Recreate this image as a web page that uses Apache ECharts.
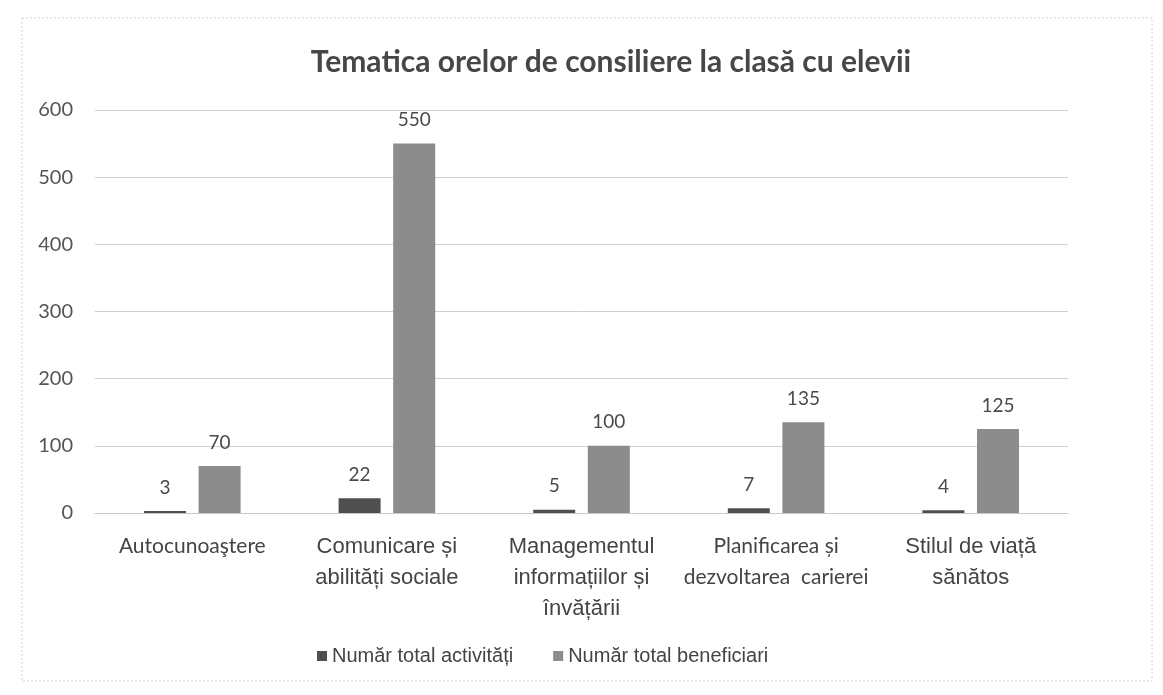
<!DOCTYPE html>
<html>
<head>
<meta charset="utf-8">
<script src="https://cdn.jsdelivr.net/npm/echarts@6/dist/echarts.min.js"></script>
<style>
  html, body { margin: 0; padding: 0; background: #ffffff; }
  #chart { width: 1163px; height: 695px; }
</style>
</head>
<body>
<div id="chart"></div>
<script>
// Topics of the class counselling hours
const categories = [
  'Autocunoaştere',
  'Comunicare și\nabilități sociale',
  'Managementul\ninformațiilor și\nînvățării',
  'Planificarea și\ndezvoltarea  carierei',
  'Stilul de viață\nsănătos'
];
const activities = [3, 22, 5, 7, 4];
const beneficiaries = [70, 550, 100, 135, 125];
const yTicks = [0, 100, 200, 300, 400, 500, 600];

const seriesNames = ['Număr total activități', 'Număr total beneficiari'];
const calibriLike = 'Lato, "Open Sans", sans-serif';
const arialLike = '"Liberation Sans", Arial, sans-serif';
// category labels set in two typefaces
const labelStyleKey = ['c', 'a', 'a', 'c', 'a'];

const chart = echarts.init(document.getElementById('chart'));

const valueLabel = {
  show: true,
  position: 'top',
  distance: 14,
  color: '#4a4a4a',
  fontFamily: calibriLike,
  fontSize: 19
};

chart.setOption({
  backgroundColor: '#ffffff',
  animation: false,
  graphic: [{
    type: 'rect',
    shape: { x: 22, y: 18, width: 1130, height: 663 },
    style: { fill: 'none', stroke: '#d2d2d2', lineWidth: 1, lineDash: [2, 2] },
    silent: true,
    z: -1
  }],
  title: {
    text: 'Tematica orelor de consiliere la clasă cu elevii',
    left: 606,
    top: 42,
    textAlign: 'center',
    textStyle: {
      fontFamily: calibriLike,
      fontWeight: 'bold',
      fontSize: 30,
      color: '#474747'
    }
  },
  legend: {
    bottom: 24,
    left: 312,
    itemWidth: 10,
    itemHeight: 10,
    itemGap: 40,
    icon: 'rect',
    textStyle: { fontFamily: arialLike, fontSize: 20, color: '#444' },
    data: seriesNames
  },
  grid: { left: 95, right: 95, top: 110, bottom: 182 },
  xAxis: {
    type: 'category',
    data: categories,
    axisLine: { lineStyle: { color: '#c8c8c8' } },
    axisTick: { show: false },
    axisLabel: {
      margin: 18,
      interval: 0,
      lineHeight: 31,
      formatter: function (value, idx) {
        const key = labelStyleKey[idx];
        return value.split('\n').map(function (s) { return '{' + key + '|' + s + '}'; }).join('\n');
      },
      rich: {
        a: { fontFamily: arialLike, fontSize: 22, color: '#444', lineHeight: 31 },
        c: { fontFamily: calibriLike, fontSize: 21, color: '#444', lineHeight: 31 }
      }
    }
  },
  yAxis: {
    type: 'value',
    min: yTicks[0],
    max: yTicks[yTicks.length - 1],
    interval: 100,
    axisLine: { show: false },
    axisTick: { show: false },
    splitLine: { lineStyle: { color: '#cfcfcf', width: 1 } },
    axisLabel: {
      margin: 22,
      fontFamily: calibriLike,
      fontSize: 20,
      color: '#555'
    }
  },
  series: [
    {
      name: seriesNames[0],
      type: 'bar',
      data: activities,
      barWidth: 42,
      barGap: '30%',
      itemStyle: { color: '#4f4f4f' },
      label: valueLabel
    },
    {
      name: seriesNames[1],
      type: 'bar',
      data: beneficiaries,
      barWidth: 42,
      itemStyle: { color: '#8c8c8c' },
      label: valueLabel
    }
  ]
});
</script>
</body>
</html>
